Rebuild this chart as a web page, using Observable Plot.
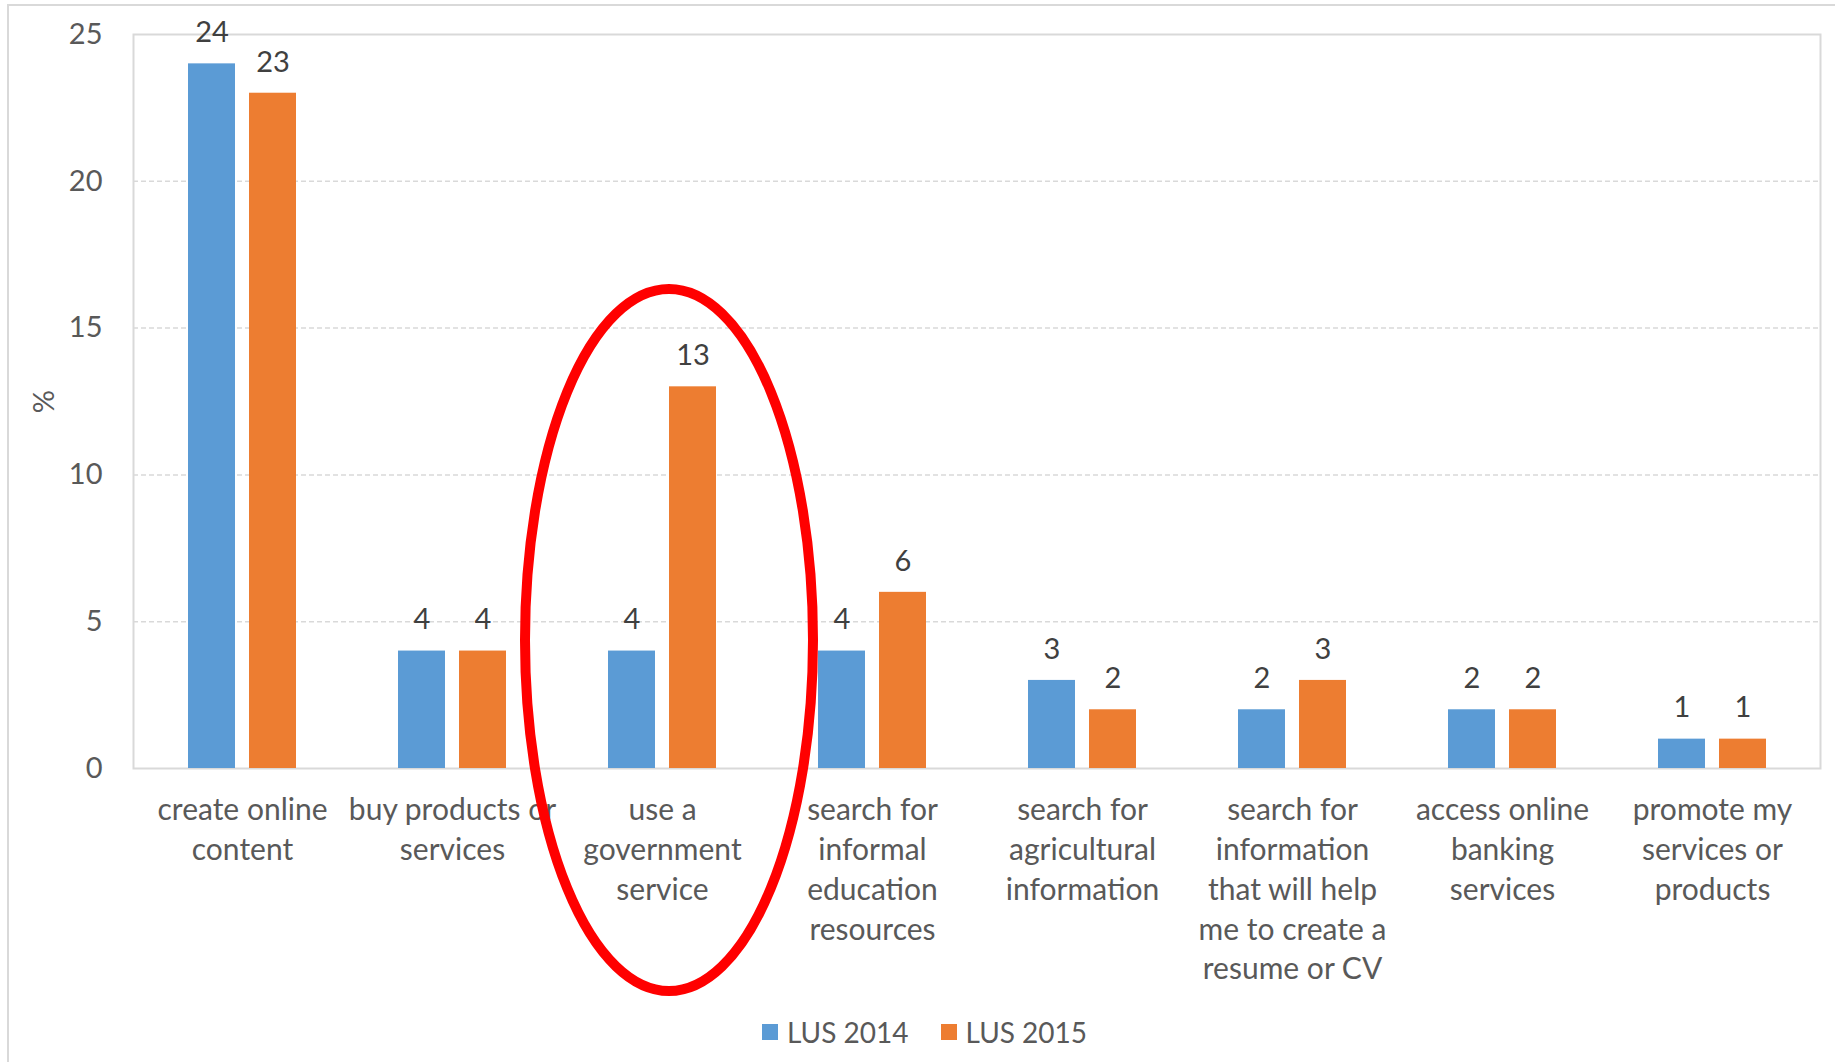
<!DOCTYPE html>
<html>
<head>
<meta charset="utf-8">
<script src="https://cdn.jsdelivr.net/npm/d3@7"></script>
<script src="https://cdn.jsdelivr.net/npm/@observablehq/plot@0.6"></script>
<style>
  html, body { margin: 0; padding: 0; background: #fff; overflow: hidden; }
  #wrap { position: relative; width: 1835px; height: 1062px; font-family: Lato, "Open Sans", sans-serif; }
  #border { position: absolute; left: 7px; top: 4px; width: 1840px; height: 1070px; border: 2px solid #d9d9d9; box-sizing: border-box; }
  #chart { position: absolute; left: 0; top: 0; }
  #legend { position: absolute; left: 7px; width: 1835px; top: 1015px; display: flex; justify-content: center; font-size: 28px; color: #595959; }
  .item { display: flex; align-items: center; margin: 0 16px; }
  .sw { width: 16px; height: 16px; margin-right: 9px; }
</style>
</head>
<body>
<div id="wrap">
  <div id="border"></div>
  <div id="chart"></div>
  <div id="legend"></div>
</div>
<script>
const categories = [
  "create online\ncontent",
  "buy products or\nservices",
  "use a\ngovernment\nservice",
  "search for\ninformal\neducation\nresources",
  "search for\nagricultural\ninformation",
  "search for\ninformation\nthat will help\nme to create a\nresume or CV",
  "access online\nbanking\nservices",
  "promote my\nservices or\nproducts"
];
const lus2014 = [24, 4, 4, 4, 3, 2, 2, 1];
const lus2015 = [23, 4, 13, 6, 2, 3, 2, 1];
const seriesNames = ["LUS 2014", "LUS 2015"];
const seriesColors = ["#5B9BD5", "#ED7D31"];
const yTicks = [0, 5, 10, 15, 20, 25];
const gridTicks = [5, 10, 15, 20];
const highlighted = categories[2];

const rows2014 = categories.map((c, i) => ({category: c, value: lus2014[i]}));
const rows2015 = categories.map((c, i) => ({category: c, value: lus2015[i]}));

const ellipseMark = (index, scales) => {
  const bw = scales.x.bandwidth ? scales.x.bandwidth() : 211;
  const cx = scales.x(highlighted) + bw / 2 + 7;
  const cy = scales.y(0) - 128;
  const el = document.createElementNS("http://www.w3.org/2000/svg", "ellipse");
  el.setAttribute("cx", cx);
  el.setAttribute("cy", cy);
  el.setAttribute("rx", 144);
  el.setAttribute("ry", 351);
  el.setAttribute("fill", "none");
  el.setAttribute("stroke", "#FF0000");
  el.setAttribute("stroke-width", 10);
  return el;
};

const chart = Plot.plot({
  width: 1835,
  height: 1000,
  marginLeft: 133,
  marginRight: 15,
  marginTop: 34,
  marginBottom: 232,
  style: {background: "transparent", fontFamily: "Lato, 'Open Sans', sans-serif", fontSize: "29px", color: "#595959", overflow: "visible"},
  x: {domain: categories, padding: 0, axis: null},
  y: {domain: [0, 25], ticks: yTicks, tickSize: 0, tickPadding: 31, label: "%", labelAnchor: "center", labelOffset: 100, labelArrow: "none"},
  marks: [
    Plot.ruleY(gridTicks, {stroke: "#d9d9d9", strokeWidth: 1.5, strokeDasharray: "5,3"}),
    Plot.frame({stroke: "#d9d9d9", strokeWidth: 2}),
    Plot.barY(rows2014, {x: "category", y: "value", fill: seriesColors[0], insetLeft: 51, insetRight: 112}),
    Plot.barY(rows2015, {x: "category", y: "value", fill: seriesColors[1], insetLeft: 112, insetRight: 51}),
    Plot.text(rows2014, {x: "category", y: "value", text: d => String(d.value), dx: -30.5, dy: -31, fill: "#404040", fontSize: 29}),
    Plot.text(rows2015, {x: "category", y: "value", text: d => String(d.value), dx: 30.5, dy: -31, fill: "#404040", fontSize: 29}),
    Plot.text(categories, {x: d => d, y: () => 0, text: d => d, lineAnchor: "top", dy: 23, lineHeight: 1.33, fill: "#595959", fontSize: 30}),
    ellipseMark
  ]
});
document.getElementById("chart").appendChild(chart);

const legend = document.getElementById("legend");
seriesNames.forEach((name, i) => {
  const item = document.createElement("div");
  item.className = "item";
  const sw = document.createElement("div");
  sw.className = "sw";
  sw.style.background = seriesColors[i];
  const label = document.createElement("span");
  label.textContent = name;
  item.appendChild(sw);
  item.appendChild(label);
  legend.appendChild(item);
});
</script>
</body>
</html>
